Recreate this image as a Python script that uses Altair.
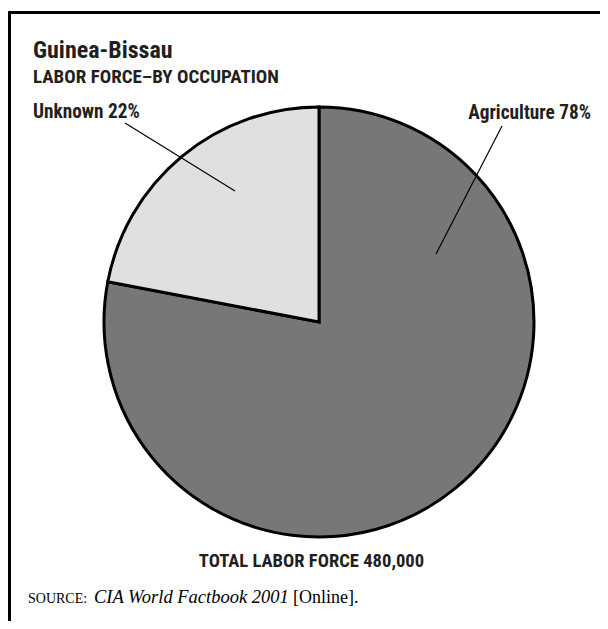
import altair as alt
import pandas as pd

# ---- data ----
categories = ["Agriculture", "Unknown"]
shares = [78, 22]
slice_colors = ["#777777", "#e0e0e0"]

title_text = ["Guinea-Bissau"]
subtitle_text = ["LABOR FORCE\u2013BY OCCUPATION"]
total_text = ["TOTAL LABOR FORCE 480,000"]
source_label = ["SOURCE:"]
source_title = ["CIA World Factbook 2001"]
source_tail = ["[Online]."]

COND = "Roboto Condensed, Roboto, sans-serif"
SERIF = "Liberation Serif, Times New Roman, serif"

pie_df = pd.DataFrame({
    "cat": categories,
    "share": shares,
    "idx": list(range(len(categories))),
    "label": [f"{c} {s}%" for c, s in zip(categories, shares)],
})

CX, CY, R = 311, 314, 215

pie = alt.Chart(pie_df).mark_arc(
    outerRadius=R, stroke="black", strokeWidth=3, strokeJoin="miter"
).encode(
    theta=alt.Theta("share:Q", stack=True),
    color=alt.Color("cat:N", scale=alt.Scale(domain=categories, range=slice_colors), legend=None),
    order=alt.Order("idx:Q"),
    x=alt.value(CX),
    y=alt.value(CY),
)

def text_layer(values, x, y, size, font=COND, weight="bold", align="left", style="normal", color="#231f20"):
    d = pd.DataFrame({"t": values})
    return alt.Chart(d).mark_text(
        font=font, fontSize=size, fontWeight=weight, align=align, baseline="alphabetic",
        fontStyle=style, color=color
    ).encode(text="t:N", x=alt.value(x), y=alt.value(y))

agri_label = alt.Chart(pie_df[pie_df.cat == "Agriculture"]).mark_text(
    font=COND, fontSize=19.3, fontWeight="bold", align="right", baseline="alphabetic", color="#231f20"
).encode(text="label:N", x=alt.value(583), y=alt.value(111))

unk_label = alt.Chart(pie_df[pie_df.cat == "Unknown"]).mark_text(
    font=COND, fontSize=19.3, fontWeight="bold", align="left", baseline="alphabetic", color="#231f20"
).encode(text="label:N", x=alt.value(25), y=alt.value(110))

line_df = pd.DataFrame({"k": [0]})
def rule(x1, y1, x2, y2, w):
    return alt.Chart(line_df).mark_rule(color="black", strokeWidth=w).encode(
        x=alt.value(x1), y=alt.value(y1), x2=alt.value(x2), y2=alt.value(y2)
    )

layers = [
    rule(0, 4.5, 592, 4.5, 3),
    rule(1.5, 3, 1.5, 613, 3),
    pie,
    rule(117, 115, 227, 183, 1.2),
    rule(494, 118, 428, 246, 1.2),
    text_layer(title_text, 25, 50, 24),
    text_layer(subtitle_text, 25, 75, 19),
    agri_label,
    unk_label,
    text_layer(total_text, 303.5, 559, 18.6, align="center"),
    text_layer(source_label, 20, 595, 14, font=SERIF, weight="normal", color="black"),
    text_layer(source_title, 86, 595, 18.5, font=SERIF, weight="normal", style="italic", color="black"),
    text_layer(source_tail, 285, 595, 18, font=SERIF, weight="normal", color="black"),
]

chart = alt.layer(*layers).properties(
    width=592, height=613, autosize=alt.AutoSizeParams(type="none"), padding=0,
    background="white"
).configure_view(stroke=None)

chart.save("out.html", embed_options={"renderer": "svg", "actions": False})
